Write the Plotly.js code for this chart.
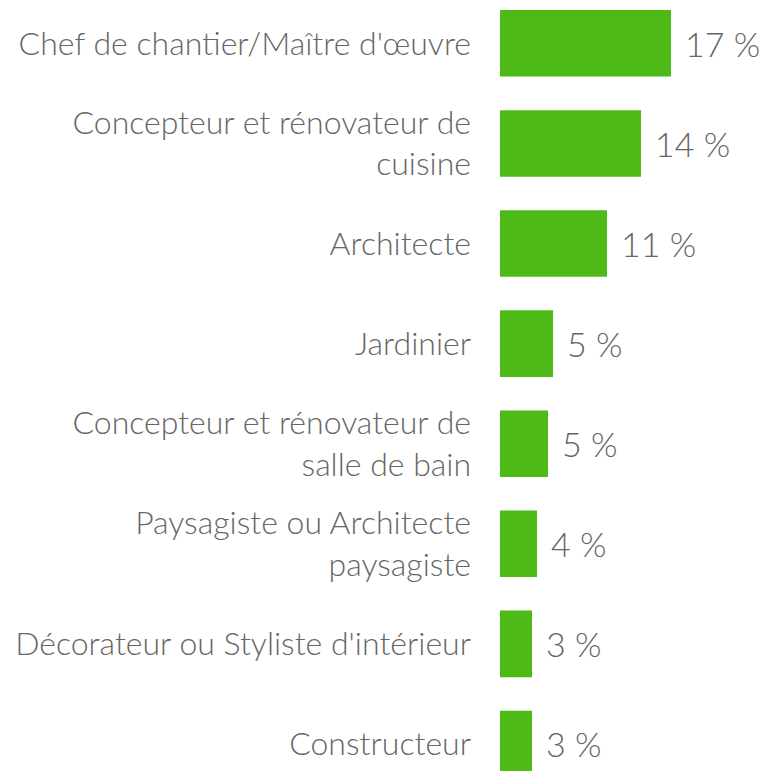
<!DOCTYPE html>
<html>
<head>
<meta charset="utf-8">
<script src="https://cdn.plot.ly/plotly-3.0.1.min.js"></script>
<style>
html,body{margin:0;padding:0;background:#fff;}
#chart{width:761px;height:771px;}
</style>
</head>
<body>
<div id="chart"></div>
<script>
const categories = [
  "Chef de chantier/Maître d'œuvre",
  "Concepteur et rénovateur de<br>cuisine",
  "Architecte",
  "Jardinier",
  "Concepteur et rénovateur de<br>salle de bain",
  "Paysagiste ou Architecte<br>paysagiste",
  "Décorateur ou Styliste d'intérieur",
  "Constructeur"
];
const values = [17.1, 14.1, 10.7, 5.3, 4.8, 3.7, 3.2, 3.2];
const valueLabels = ["17 %", "14 %", "11 %", "5 %", "5 %", "4 %", "3 %", "3 %"];

const green = "#4DBA18";
const grey = "#666666";

const trace = {
  type: "bar",
  orientation: "h",
  x: values,
  y: categories,
  marker: {color: green, line: {width: 0}},
  hoverinfo: "skip"
};

const annotations = categories.map((c, i) => ({
  x: values[i],
  y: c,
  xref: "x",
  yref: "y",
  text: valueLabels[i],
  showarrow: false,
  xanchor: "left",
  yanchor: "middle",
  xshift: 12,
  font: {family: "Lato", size: 34, color: grey, weight: 300}
}));

const layout = {
  width: 761,
  height: 771,
  margin: {l: 500, r: 0, t: 0, b: 0, pad: 0},
  paper_bgcolor: "#ffffff",
  plot_bgcolor: "#ffffff",
  showlegend: false,
  bargap: 0.335,
  xaxis: {
    range: [0, 26.1],
    showgrid: false,
    zeroline: false,
    showline: false,
    showticklabels: false,
    ticks: ""
  },
  yaxis: {
    type: "category",
    range: [7.27, -0.433],
    showgrid: false,
    zeroline: false,
    showline: false,
    ticks: "",
    ticklabelstandoff: 28,
    tickfont: {family: "Lato", size: 32, color: grey, weight: 300}
  },
  annotations: annotations
};

Plotly.newPlot("chart", [trace], layout, {displayModeBar: false, staticPlot: true});
</script>
</body>
</html>
